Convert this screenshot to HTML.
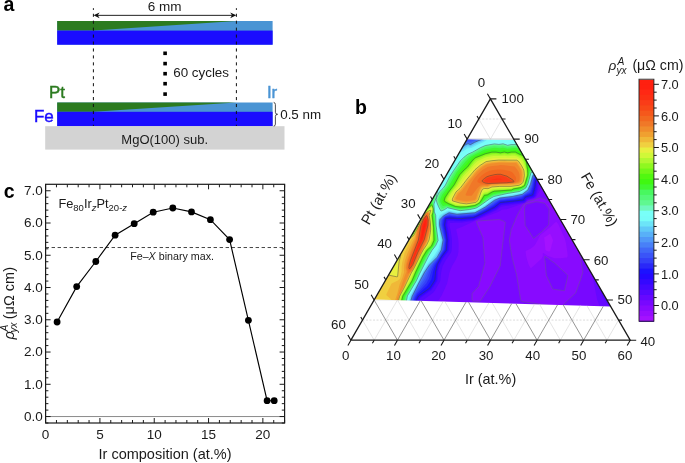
<!DOCTYPE html>
<html><head><meta charset="utf-8"><style>html,body{margin:0;padding:0;background:#fff;}svg{display:block;will-change:transform;}</style></head>
<body><svg width="685" height="463" viewBox="0 0 685 463">
<rect width="685" height="463" fill="#fff"/>
<rect x="57.2" y="21.0" width="215.40000000000003" height="23.700000000000003" fill="#4a94d4"/>
<polygon points="57.2,21.0 236.4,21.0 93.4,30.6 57.2,30.6" fill="#2c7b20"/>
<rect x="57.2" y="30.6" width="215.40000000000003" height="14.100000000000001" fill="#1a0cff"/>
<rect x="57.2" y="102.5" width="215.40000000000003" height="23.700000000000003" fill="#4a94d4"/>
<polygon points="57.2,102.5 236.4,102.5 93.4,111.8 57.2,111.8" fill="#2c7b20"/>
<rect x="57.2" y="111.8" width="215.40000000000003" height="14.400000000000006" fill="#1a0cff"/>
<rect x="45.2" y="126.2" width="239.3" height="23.4" fill="#d3d3d3"/>
<text x="164.7" y="143.6" font-size="13" text-anchor="middle" font-family="Liberation Sans, sans-serif" fill="#1a1a1a">MgO(100) sub.</text>
<line x1="93.4" y1="8.2" x2="93.4" y2="126" stroke="#111" stroke-width="1" stroke-dasharray="3.1,3.84" stroke-dashoffset="1.4"/>
<line x1="236.4" y1="8.2" x2="236.4" y2="126" stroke="#111" stroke-width="1" stroke-dasharray="3.1,3.84" stroke-dashoffset="1.4"/>
<line x1="96" y1="15.35" x2="234" y2="15.35" stroke="#222" stroke-width="1"/>
<polygon points="93.5,15.35 99.6,12.5 97.8,15.35 99.6,18.2" fill="#111"/>
<polygon points="236.3,15.35 230.2,12.5 232,15.35 230.2,18.2" fill="#111"/>
<text x="164.7" y="10.8" font-size="13.5" text-anchor="middle" font-family="Liberation Sans, sans-serif" fill="#1a1a1a">6 mm</text>
<rect x="163.3" y="51.5" width="3.6" height="3.6" fill="#000"/>
<rect x="163.3" y="61.800000000000004" width="3.6" height="3.6" fill="#000"/>
<rect x="163.3" y="71.9" width="3.6" height="3.6" fill="#000"/>
<rect x="163.3" y="81.9" width="3.6" height="3.6" fill="#000"/>
<rect x="163.3" y="92.3" width="3.6" height="3.6" fill="#000"/>
<text x="173.2" y="77.4" font-size="13.4" font-family="Liberation Sans, sans-serif" fill="#1a1a1a">60 cycles</text>
<text x="48.9" y="98.4" font-size="17" stroke="#2c7b20" stroke-width="0.45" font-family="Liberation Sans, sans-serif" fill="#2c7b20">Pt</text>
<text x="33.9" y="122.2" font-size="17" stroke="#1a0cff" stroke-width="0.45" font-family="Liberation Sans, sans-serif" fill="#1a0cff">Fe</text>
<text x="266.9" y="97.8" font-size="17" stroke="#4a94d4" stroke-width="0.45" font-family="Liberation Sans, sans-serif" fill="#4a94d4">Ir</text>
<path d="M273.7,102.4 Q275.4,102.6 275.4,104.6 L275.4,112.3 Q275.4,114.3 277.6,114.3 Q275.4,114.3 275.4,116.3 L275.4,124.1 Q275.4,126.1 273.7,126.1" fill="none" stroke="#222" stroke-width="0.8"/>
<text x="280.2" y="119.4" font-size="13.4" font-family="Liberation Sans, sans-serif" fill="#1a1a1a">0.5 nm</text>
<text x="3.6" y="11.2" font-size="19.5" font-weight="bold" font-family="Liberation Sans, sans-serif" fill="#000">a</text>
<line x1="45.6" y1="416.55" x2="284.6" y2="416.55" stroke="#8a8a8a" stroke-width="1"/>
<line x1="45.6" y1="247.52" x2="284.6" y2="247.52" stroke="#333" stroke-width="0.9" stroke-dasharray="3.4,2.6"/>
<path d="M45.60,423.0v-5M45.60,184.3v5M56.46,423.0v-3M56.46,184.3v3M67.33,423.0v-3M67.33,184.3v3M78.19,423.0v-3M78.19,184.3v3M89.05,423.0v-3M89.05,184.3v3M99.92,423.0v-5M99.92,184.3v5M110.78,423.0v-3M110.78,184.3v3M121.65,423.0v-3M121.65,184.3v3M132.51,423.0v-3M132.51,184.3v3M143.37,423.0v-3M143.37,184.3v3M154.24,423.0v-5M154.24,184.3v5M165.10,423.0v-3M165.10,184.3v3M175.96,423.0v-3M175.96,184.3v3M186.83,423.0v-3M186.83,184.3v3M197.69,423.0v-3M197.69,184.3v3M208.55,423.0v-5M208.55,184.3v5M219.42,423.0v-3M219.42,184.3v3M230.28,423.0v-3M230.28,184.3v3M241.15,423.0v-3M241.15,184.3v3M252.01,423.0v-3M252.01,184.3v3M262.87,423.0v-5M262.87,184.3v5M273.74,423.0v-3M273.74,184.3v3M284.60,423.0v-3M284.60,184.3v3M45.6,423.00h2.8M284.6,423.00h-2.8M45.6,416.55h5M284.6,416.55h-5M45.6,410.10h2.8M284.6,410.10h-2.8M45.6,403.65h2.8M284.6,403.65h-2.8M45.6,397.19h2.8M284.6,397.19h-2.8M45.6,390.74h2.8M284.6,390.74h-2.8M45.6,384.29h5M284.6,384.29h-5M45.6,377.84h2.8M284.6,377.84h-2.8M45.6,371.39h2.8M284.6,371.39h-2.8M45.6,364.94h2.8M284.6,364.94h-2.8M45.6,358.49h2.8M284.6,358.49h-2.8M45.6,352.04h5M284.6,352.04h-5M45.6,345.58h2.8M284.6,345.58h-2.8M45.6,339.13h2.8M284.6,339.13h-2.8M45.6,332.68h2.8M284.6,332.68h-2.8M45.6,326.23h2.8M284.6,326.23h-2.8M45.6,319.78h5M284.6,319.78h-5M45.6,313.33h2.8M284.6,313.33h-2.8M45.6,306.88h2.8M284.6,306.88h-2.8M45.6,300.42h2.8M284.6,300.42h-2.8M45.6,293.97h2.8M284.6,293.97h-2.8M45.6,287.52h5M284.6,287.52h-5M45.6,281.07h2.8M284.6,281.07h-2.8M45.6,274.62h2.8M284.6,274.62h-2.8M45.6,268.17h2.8M284.6,268.17h-2.8M45.6,261.72h2.8M284.6,261.72h-2.8M45.6,255.26h5M284.6,255.26h-5M45.6,248.81h2.8M284.6,248.81h-2.8M45.6,242.36h2.8M284.6,242.36h-2.8M45.6,235.91h2.8M284.6,235.91h-2.8M45.6,229.46h2.8M284.6,229.46h-2.8M45.6,223.01h5M284.6,223.01h-5M45.6,216.56h2.8M284.6,216.56h-2.8M45.6,210.11h2.8M284.6,210.11h-2.8M45.6,203.65h2.8M284.6,203.65h-2.8M45.6,197.20h2.8M284.6,197.20h-2.8M45.6,190.75h5M284.6,190.75h-5" stroke="#1a1a1a" stroke-width="1" fill="none"/>
<rect x="45.6" y="184.3" width="239.00000000000003" height="238.7" fill="none" stroke="#1a1a1a" stroke-width="1.2"/>
<text x="42.9" y="420.85" font-size="13.5" text-anchor="end" font-family="Liberation Sans, sans-serif" fill="#1a1a1a">0.0</text>
<text x="42.9" y="388.59" font-size="13.5" text-anchor="end" font-family="Liberation Sans, sans-serif" fill="#1a1a1a">1.0</text>
<text x="42.9" y="356.34" font-size="13.5" text-anchor="end" font-family="Liberation Sans, sans-serif" fill="#1a1a1a">2.0</text>
<text x="42.9" y="324.08" font-size="13.5" text-anchor="end" font-family="Liberation Sans, sans-serif" fill="#1a1a1a">3.0</text>
<text x="42.9" y="291.82" font-size="13.5" text-anchor="end" font-family="Liberation Sans, sans-serif" fill="#1a1a1a">4.0</text>
<text x="42.9" y="259.56" font-size="13.5" text-anchor="end" font-family="Liberation Sans, sans-serif" fill="#1a1a1a">5.0</text>
<text x="42.9" y="227.31" font-size="13.5" text-anchor="end" font-family="Liberation Sans, sans-serif" fill="#1a1a1a">6.0</text>
<text x="42.9" y="195.05" font-size="13.5" text-anchor="end" font-family="Liberation Sans, sans-serif" fill="#1a1a1a">7.0</text>
<text x="45.60" y="438.9" font-size="13.5" text-anchor="middle" font-family="Liberation Sans, sans-serif" fill="#1a1a1a">0</text>
<text x="99.92" y="438.9" font-size="13.5" text-anchor="middle" font-family="Liberation Sans, sans-serif" fill="#1a1a1a">5</text>
<text x="154.24" y="438.9" font-size="13.5" text-anchor="middle" font-family="Liberation Sans, sans-serif" fill="#1a1a1a">10</text>
<text x="208.55" y="438.9" font-size="13.5" text-anchor="middle" font-family="Liberation Sans, sans-serif" fill="#1a1a1a">15</text>
<text x="262.87" y="438.9" font-size="13.5" text-anchor="middle" font-family="Liberation Sans, sans-serif" fill="#1a1a1a">20</text>
<text x="165.0" y="459.2" font-size="14.5" text-anchor="middle" font-family="Liberation Sans, sans-serif" fill="#1a1a1a">Ir composition (at.%)</text>
<polyline points="57.1,322 76.7,286.6 95.8,261.5 115.1,235.2 134.2,223.7 153.2,212.2 172.8,208 191.5,211.9 210.4,219.7 229.6,239.6 248.4,320.3 267.1,400.7 274.2,400.7" fill="none" stroke="#000" stroke-width="1.15"/>
<circle cx="57.1" cy="322" r="3.4" fill="#000"/>
<circle cx="76.7" cy="286.6" r="3.4" fill="#000"/>
<circle cx="95.8" cy="261.5" r="3.4" fill="#000"/>
<circle cx="115.1" cy="235.2" r="3.4" fill="#000"/>
<circle cx="134.2" cy="223.7" r="3.4" fill="#000"/>
<circle cx="153.2" cy="212.2" r="3.4" fill="#000"/>
<circle cx="172.8" cy="208" r="3.4" fill="#000"/>
<circle cx="191.5" cy="211.9" r="3.4" fill="#000"/>
<circle cx="210.4" cy="219.7" r="3.4" fill="#000"/>
<circle cx="229.6" cy="239.6" r="3.4" fill="#000"/>
<circle cx="248.4" cy="320.3" r="3.4" fill="#000"/>
<circle cx="267.1" cy="400.7" r="3.4" fill="#000"/>
<circle cx="274.2" cy="400.7" r="3.4" fill="#000"/>
<text x="58.4" y="208.0" font-size="12.8" font-family="Liberation Sans, sans-serif" fill="#1a1a1a">Fe<tspan font-size="9.5" dy="3">80</tspan><tspan dy="-3">Ir</tspan><tspan font-size="9.5" dy="3" font-style="italic">z</tspan><tspan dy="-3">Pt</tspan><tspan font-size="9.5" dy="3">20-<tspan font-style="italic">z</tspan></tspan></text>
<text x="130.2" y="259.9" font-size="10.7" font-family="Liberation Sans, sans-serif" fill="#1a1a1a">Fe–<tspan font-style="italic">X</tspan> binary max.</text>
<g transform="translate(13.6,339.6) rotate(-90)" font-family="Liberation Sans, sans-serif" fill="#1a1a1a"><text x="0" y="0" font-size="14.5" font-style="italic">ρ</text><text x="7.0" y="3.2" font-size="10" font-style="italic">yx</text><text x="8.2" y="-5.4" font-size="10.3" font-style="italic">A</text><text x="20.4" y="0" font-size="14.5">(μΩ cm)</text></g>
<text x="3.8" y="197.8" font-size="19.5" font-weight="bold" font-family="Liberation Sans, sans-serif" fill="#000">c</text>
<rect x="330" y="110" width="320" height="210" fill="#a814ff"/><path fill="#a412ff" d="M330.4,110.1L649.9,110.1L649.9,319.9L330.1,319.9L330.1,110.1L330.4,110.1Z"/><path fill="#960eff" d="M330.4,110.1L649.9,110.1L649.9,319.9L330.1,319.9L330.1,110.1L330.4,110.1ZM549.6,234.1L544.9,236.9L544.2,237.6L545.4,249.4L545.6,249.9L546.8,250.9L548.4,251.6L549.6,251.5L550.2,250.9L553.0,240.6L552.7,239.6L550.8,234.9L550.2,234.1L549.6,234.1Z"/><path fill="#880aff" d="M330.4,110.1L649.9,110.1L649.9,319.9L330.1,319.9L330.1,110.1L330.4,110.1ZM556.0,221.9L553.9,223.6L551.0,226.6L540.1,235.4L535.9,243.6L533.9,246.3L530.4,248.8L525.7,250.9L525.6,251.9L526.1,255.4L527.4,261.0L529.1,265.7L530.6,268.0L531.2,267.9L534.7,264.9L541.6,258.4L542.9,255.9L542.7,253.6L543.1,253.1L543.9,253.2L547.4,255.7L554.6,258.2L560.4,258.2L566.6,257.6L567.4,257.3L567.6,255.9L567.5,253.1L566.0,243.4L565.0,239.1L558.4,224.6L556.9,222.3L556.4,221.9L556.0,221.9Z"/><path fill="#7808ff" d="M330.4,110.1L649.9,110.1L649.9,319.9L330.1,319.9L330.1,110.1L330.4,110.1ZM539.6,197.9L534.6,199.8L528.6,201.6L523.9,204.1L523.0,205.1L521.5,207.4L517.0,215.6L511.2,229.4L509.4,239.9L510.4,247.9L512.2,257.9L516.6,275.0L520.5,299.1L521.1,300.9L521.6,301.3L523.6,301.7L556.9,306.8L560.4,307.2L561.1,306.8L563.4,304.8L575.8,292.9L577.3,289.1L580.8,278.9L582.8,272.9L582.9,271.9L579.3,250.6L577.6,246.6L570.9,233.9L561.2,214.6L553.2,202.9L551.9,202.0L542.9,198.5L540.4,197.8L539.6,197.9ZM498.3,219.6L493.9,219.7L482.6,220.6L477.4,221.1L476.7,221.4L476.5,221.6L477.7,225.4L482.9,237.5L484.9,262.9L478.6,286.3L472.8,292.4L472.1,293.4L472.0,299.9L472.4,300.8L473.1,301.2L479.4,301.3L480.1,301.1L480.7,300.6L489.5,287.4L500.3,265.9L505.3,222.6L505.0,221.9L504.4,221.4L499.9,219.7L498.3,219.6ZM535.1,201.9L536.1,201.7L537.4,201.8L544.9,203.3L548.6,208.4L549.0,209.6L548.8,224.1L548.4,225.1L541.8,231.6L535.1,237.4L533.6,238.4L525.1,225.2L524.5,207.6L525.4,205.0L525.9,204.3L535.1,201.9ZM544.9,256.3L554.5,263.1L567.9,275.4L567.9,276.5L564.4,290.7L562.2,290.6L554.6,289.4L553.1,289.1L552.6,288.7L546.3,275.1L544.9,259.4L544.9,256.3Z"/><path fill="#6608ff" d="M330.4,110.1L596.6,110.1L596.1,114.9L595.0,119.4L581.4,157.9L574.1,179.4L572.3,182.6L570.2,184.9L568.6,186.0L566.1,187.2L562.6,188.0L560.4,188.0L544.4,186.4L542.5,186.4L541.9,187.0L536.8,196.1L535.7,197.4L534.4,198.3L527.9,200.1L526.1,202.1L524.9,203.0L510.4,208.0L506.6,209.2L502.6,209.4L497.6,212.2L476.4,220.0L473.6,221.6L461.9,227.1L459.1,227.9L456.4,229.0L456.3,229.9L458.2,238.9L458.6,243.1L458.5,251.4L457.7,255.4L455.4,260.4L452.6,264.9L450.7,269.1L449.2,273.6L447.6,281.6L446.9,284.1L441.7,295.4L438.9,299.7L432.1,307.6L429.8,314.1L426.5,319.9L330.1,319.9L330.1,110.1L330.4,110.1ZM608.4,254.6L610.4,254.6L612.4,255.0L614.4,255.8L616.1,257.0L625.6,267.5L629.6,271.6L637.4,279.0L649.9,290.3L649.9,315.4L647.1,317.7L643.8,319.9L605.2,319.9L603.7,316.6L597.1,299.6L592.2,274.4L589.4,265.1L589.3,263.9L589.9,261.9L590.6,261.0L591.6,260.3L605.9,255.2L608.4,254.6Z"/><path fill="#5408ff" d="M330.4,110.1L461.8,110.1L464.9,111.6L467.1,113.4L470.4,111.3L473.9,110.5L523.6,111.6L560.1,111.6L562.6,112.0L564.9,113.1L566.9,115.2L567.8,117.1L568.3,119.6L564.7,179.6L564.1,181.1L563.1,182.2L561.9,183.0L560.4,183.4L542.4,183.1L539.6,183.2L539.1,184.6L538.2,189.1L536.1,195.6L535.5,196.6L533.9,197.9L527.4,199.7L525.9,201.8L524.6,202.7L516.6,204.3L507.4,205.8L501.9,206.4L500.6,207.1L496.6,210.3L482.9,216.8L473.4,220.8L461.4,222.8L454.6,222.8L449.9,223.1L449.6,223.6L449.5,225.4L450.8,231.4L452.0,239.6L451.9,247.1L451.6,250.6L451.2,252.1L450.6,253.2L445.6,260.4L442.5,266.6L441.1,272.6L440.3,280.4L439.8,282.1L434.4,291.3L432.9,292.9L423.4,300.1L420.6,306.1L419.9,307.1L418.7,308.4L417.6,309.0L414.1,310.1L413.4,312.1L412.1,313.5L410.9,314.0L409.4,314.2L350.4,317.9L347.4,317.6L345.1,316.5L342.9,314.4L338.6,314.5L336.4,314.0L334.9,313.5L333.0,312.4L330.1,309.8L330.1,110.1L330.4,110.1ZM604.6,262.6L606.6,262.6L607.7,263.4L617.7,278.6L630.5,297.4L631.6,299.6L631.4,301.4L630.2,302.9L616.1,311.3L614.9,311.8L613.2,311.6L611.9,310.5L602.6,296.9L591.6,264.6L591.6,263.9L592.4,263.4L604.6,262.6Z"/><path fill="#4408ff" d="M340.1,117.6L459.6,117.5L461.4,118.0L462.4,119.1L463.0,121.6L464.3,130.9L464.9,131.4L466.1,131.5L469.1,131.5L469.8,131.1L471.8,119.4L472.9,118.0L474.6,117.5L558.9,117.5L560.6,117.7L561.5,118.1L562.2,118.9L562.8,121.1L562.8,177.9L562.5,179.6L562.2,180.4L561.5,181.1L559.6,181.7L539.4,181.7L538.4,181.9L538.0,182.6L537.3,188.6L535.4,195.4L534.9,196.4L533.6,197.4L527.1,199.1L526.6,199.6L525.4,201.6L524.4,202.3L520.9,202.9L501.4,205.1L499.9,206.1L496.1,209.4L482.6,216.1L473.6,220.1L461.6,221.3L456.9,221.2L449.6,220.8L448.1,221.0L447.8,221.6L447.3,225.1L448.7,232.1L449.7,240.1L449.2,249.9L448.9,251.1L448.2,252.1L443.1,258.7L439.7,265.6L438.3,271.6L438.0,277.4L437.4,281.1L431.8,289.9L420.5,297.9L417.5,303.9L416.8,304.9L415.6,305.5L412.4,305.8L411.1,306.3L410.9,307.0L410.8,309.9L410.4,310.6L409.1,310.9L350.1,310.8L349.5,310.1L349.4,306.9L348.9,306.1L347.4,305.8L340.9,305.8L339.4,305.5L338.0,304.4L337.5,302.4L337.5,121.1L337.8,119.4L338.2,118.6L338.9,118.0L340.1,117.6Z"/><path fill="#3408ff" d="M339.9,118.6L341.9,118.4L459.6,118.5L461.0,118.9L461.7,119.9L463.7,131.9L464.6,132.4L467.9,132.4L469.9,132.3L470.6,131.7L472.6,119.9L473.2,118.9L474.4,118.5L558.4,118.4L560.4,118.6L561.5,119.4L561.8,121.4L561.8,177.6L561.7,179.4L560.9,180.5L559.4,180.8L539.1,180.8L537.9,181.0L537.5,181.4L537.2,182.1L536.4,188.4L534.2,195.9L533.4,196.6L526.6,198.4L525.9,199.1L524.9,201.0L524.1,201.6L501.1,204.2L499.4,205.4L495.6,208.6L482.1,215.4L473.9,219.2L461.6,220.4L449.4,219.8L448.1,219.9L447.4,220.1L446.9,221.4L446.4,225.1L447.8,231.9L448.8,240.1L448.2,250.1L447.5,251.6L442.4,258.2L438.8,265.4L437.4,271.6L437.0,277.4L436.5,280.9L431.1,289.3L419.9,297.2L416.1,304.3L414.9,304.7L412.1,304.9L411.4,305.3L410.8,306.4L410.6,309.9L410.1,310.5L350.4,310.6L349.7,310.1L349.5,306.4L349.1,305.5L348.6,305.1L347.6,304.8L339.9,304.7L338.8,303.9L338.4,302.4L338.4,121.4L338.8,119.4L339.9,118.6Z"/><path fill="#2408ff" d="M340.4,119.4L459.6,119.3L460.6,119.7L461.1,120.9L462.5,130.9L463.0,132.9L464.1,133.2L468.6,133.3L470.6,133.2L471.4,132.6L473.2,120.9L473.6,119.7L474.4,119.4L485.1,119.2L560.1,119.3L560.9,119.9L561.1,121.1L561.1,173.4L560.9,179.1L560.4,179.8L559.4,179.9L538.6,180.0L537.1,180.4L536.6,180.9L536.3,181.9L535.6,188.1L533.6,195.4L532.9,195.9L525.9,197.8L524.3,200.4L523.6,200.9L500.9,203.3L499.0,204.6L495.1,208.0L481.9,214.6L473.6,218.4L461.4,219.6L449.6,219.0L447.4,219.0L446.6,219.3L446.0,221.4L445.5,225.1L446.9,231.6L447.9,239.9L447.4,250.0L446.7,251.4L441.6,257.9L438.0,265.1L436.5,272.1L436.2,277.6L435.7,280.6L430.6,288.7L419.2,296.6L415.6,303.6L414.9,303.9L411.6,304.0L411.1,304.3L410.6,306.4L410.5,309.6L410.1,310.4L408.9,310.5L350.4,310.5L349.8,309.9L349.7,306.4L349.0,304.1L340.4,303.9L339.6,303.6L339.3,302.4L339.3,121.6L339.5,119.9L340.4,119.4Z"/><path fill="#1c12ff" d="M483.9,119.6L558.6,119.5L560.4,119.8L560.7,121.1L560.8,173.4L559.9,178.9L558.9,179.1L538.4,179.1L537.1,179.3L536.1,179.8L535.7,180.4L534.7,187.9L532.9,194.4L532.6,194.9L525.4,197.0L524.8,197.6L523.6,199.7L523.1,200.0L500.4,202.5L494.7,207.1L481.4,213.9L473.6,217.5L461.4,218.6L456.9,218.6L449.9,218.1L446.6,218.2L445.9,218.4L445.4,219.4L444.6,225.1L446.0,231.9L447.1,239.9L446.8,246.6L446.4,250.1L441.0,257.4L437.2,264.6L435.5,271.9L434.8,279.6L433.9,281.6L429.9,287.9L418.4,296.1L415.0,302.9L411.4,303.4L411.0,303.6L410.5,306.6L410.4,309.6L410.1,310.2L408.9,310.4L359.9,310.4L350.9,310.4L350.1,310.2L349.8,309.6L349.8,306.6L349.5,304.1L349.1,303.5L347.1,303.2L340.9,302.9L340.4,302.6L340.3,302.1L340.9,121.0L342.1,120.8L459.1,120.6L459.6,120.7L459.9,121.2L461.7,132.9L462.0,133.9L463.1,134.3L469.6,134.3L471.8,134.1L472.5,133.1L474.4,120.6L474.9,120.3L481.4,120.1L483.9,119.6Z"/><path fill="#2a28f8" d="M483.9,119.9L485.1,119.7L527.6,119.7L559.1,119.7L560.1,119.9L560.5,120.4L560.5,121.1L560.6,173.4L560.4,174.4L558.9,177.6L557.9,177.9L537.9,177.9L536.4,178.2L535.1,179.1L534.7,179.9L533.4,187.6L531.7,192.9L531.1,193.6L524.9,196.1L522.9,198.3L522.1,198.7L513.9,199.9L499.9,201.5L493.9,205.9L484.9,211.0L475.9,215.5L472.9,216.4L463.1,217.3L457.1,217.6L449.9,216.8L446.4,217.3L445.3,217.6L444.6,218.6L443.9,220.9L443.3,224.6L446.1,240.1L445.2,249.6L440.4,256.9L435.7,264.6L433.3,271.1L431.6,278.6L431.1,279.9L427.4,285.8L417.4,295.1L414.3,301.6L413.9,302.0L410.9,303.2L410.6,303.9L410.3,309.6L410.1,310.1L408.9,310.3L360.6,310.3L351.1,310.3L350.2,310.1L350.0,309.6L349.7,303.9L349.4,303.2L343.4,300.8L342.9,300.4L342.7,299.9L343.1,295.4L345.5,281.1L345.5,269.1L345.8,264.4L346.8,258.1L367.7,147.9L368.6,147.4L431.6,131.2L439.4,129.6L446.4,128.5L453.2,128.1L457.3,134.6L458.8,136.1L460.4,136.9L462.1,137.1L472.1,136.4L473.1,136.0L474.0,135.4L475.3,133.1L476.4,123.9L476.7,122.9L483.9,119.9Z"/><path fill="#3440f8" d="M484.6,119.9L558.9,119.9L560.1,120.1L560.4,121.1L560.4,170.1L560.4,173.6L560.1,174.5L558.3,176.6L557.4,177.0L537.6,177.0L535.6,177.3L534.6,178.3L534.0,179.4L532.3,187.4L530.8,191.6L529.9,192.8L524.6,195.4L521.5,197.6L513.6,198.9L501.1,200.3L499.6,200.6L496.7,202.4L493.4,204.9L487.4,208.6L475.6,214.7L472.6,215.5L457.4,216.7L449.6,215.8L446.1,216.5L444.8,217.1L443.9,218.4L442.8,220.6L442.3,224.4L442.5,226.1L445.3,240.1L444.7,246.4L444.2,249.6L442.8,252.1L438.8,258.4L434.8,263.9L433.7,265.9L431.4,271.1L429.1,278.4L426.3,283.4L416.9,293.8L415.2,296.9L413.6,300.7L411.1,302.6L410.6,303.2L410.2,309.6L409.9,310.1L350.4,310.1L350.0,309.6L349.6,303.2L345.2,299.1L344.8,298.1L349.1,282.1L349.1,269.4L349.7,264.9L350.7,261.1L382.6,162.8L383.4,162.3L396.1,156.8L438.4,137.1L445.4,134.6L447.4,134.1L448.4,134.2L454.2,138.1L456.6,139.2L458.4,139.7L460.6,139.6L466.9,138.5L470.4,138.5L473.6,137.6L475.8,136.1L477.4,134.1L478.4,124.9L483.4,120.4L484.6,119.9Z"/><path fill="#3a54f8" d="M484.1,120.1L559.9,120.1L560.2,120.6L560.3,121.6L560.3,173.1L560.0,174.4L557.6,175.9L556.6,176.2L537.4,176.2L535.1,176.5L534.4,177.1L533.4,178.9L531.5,187.1L529.9,191.1L528.9,192.1L520.9,196.8L513.4,198.1L500.9,199.5L499.1,200.0L495.8,201.9L492.9,204.1L486.4,208.3L475.4,214.1L471.4,214.8L457.1,215.9L449.4,214.9L445.9,215.9L444.4,216.7L443.2,218.1L441.9,220.4L441.4,224.1L441.6,226.1L444.6,240.1L443.9,246.4L443.3,249.6L438.4,257.9L433.8,263.6L431.7,266.9L429.7,271.1L427.2,277.6L424.6,282.2L416.3,292.9L414.4,296.4L413.0,299.9L410.6,302.8L410.3,303.9L410.2,309.4L409.9,310.0L359.9,310.2L350.4,310.0L350.1,309.4L349.9,303.4L347.7,299.4L347.2,296.6L347.8,294.4L352.2,283.1L352.2,269.6L352.8,266.1L394.0,174.4L394.9,173.6L405.9,167.0L438.8,144.6L441.4,143.1L445.9,141.8L449.4,141.4L459.4,142.3L463.4,140.9L466.9,140.1L468.4,140.0L470.6,140.2L475.4,138.3L478.4,136.2L478.9,135.6L479.4,133.9L479.9,126.6L483.6,120.6L484.1,120.1Z"/><path fill="#4068f8" d="M484.6,120.1L558.9,120.1L559.9,120.3L560.1,121.6L560.1,172.9L560.0,174.1L558.9,174.7L556.1,175.4L537.1,175.5L534.6,175.8L533.7,176.6L532.9,178.5L531.3,184.9L529.1,190.6L528.4,191.4L522.9,195.0L520.4,196.1L513.4,197.4L500.9,198.8L498.9,199.4L495.1,201.3L485.9,207.8L475.4,213.5L471.1,214.1L457.1,215.3L449.4,214.0L445.7,215.4L444.0,216.4L441.1,220.1L440.6,223.6L440.8,226.4L444.0,240.1L442.5,249.6L441.6,251.6L437.9,257.6L433.1,263.1L430.6,266.4L428.3,270.6L426.7,273.9L425.5,276.9L423.1,281.1L415.3,292.6L413.6,296.1L412.5,299.1L410.4,303.0L409.9,309.9L408.6,310.1L360.1,310.1L351.1,310.0L350.4,309.9L350.0,303.6L349.0,300.1L349.0,299.1L351.1,292.1L355.0,283.9L355.0,270.1L355.5,267.6L394.6,199.4L401.8,192.4L405.7,188.1L411.2,181.1L416.3,173.4L433.6,157.9L450.0,146.1L451.6,145.2L453.6,144.7L460.4,144.3L463.9,142.5L467.6,141.4L470.6,141.8L475.1,139.9L479.9,137.3L480.4,136.6L481.0,134.4L481.4,127.9L483.7,120.9L484.0,120.4L484.6,120.1Z"/><path fill="#4880f8" d="M484.4,120.3L559.7,120.4L560.0,121.4L559.9,173.9L559.1,174.4L555.9,174.8L536.6,174.9L534.4,175.1L533.5,175.6L533.1,176.2L532.1,179.1L530.8,184.6L528.4,190.1L527.7,190.9L522.9,194.4L520.4,195.3L513.1,196.8L500.9,198.1L498.6,198.9L494.8,200.6L485.6,207.3L481.9,209.6L475.1,213.1L461.1,214.1L456.9,214.7L449.4,213.3L445.6,214.9L443.6,216.1L440.3,219.9L439.9,223.4L440.2,226.4L443.5,240.1L441.8,249.9L437.6,257.4L429.7,265.9L425.4,272.9L421.8,280.1L414.9,291.7L412.9,295.9L410.4,302.5L410.1,303.9L409.9,309.4L409.7,309.9L350.6,309.9L350.3,309.4L350.2,303.6L349.7,299.9L354.9,289.6L357.6,284.9L357.7,270.4L358.0,268.9L391.4,220.8L393.5,218.1L407.2,203.9L417.9,191.4L424.8,182.4L431.5,171.1L453.1,147.9L454.4,147.1L461.1,146.1L464.6,143.9L467.6,142.8L468.4,142.7L470.1,143.4L470.6,143.4L481.3,138.4L482.6,134.6L482.8,129.1L483.8,121.6L484.1,120.6L484.4,120.3Z"/><path fill="#5098f8" d="M484.4,120.6L485.4,120.4L519.9,120.4L559.6,120.6L559.8,168.9L559.8,173.1L559.6,173.9L558.8,174.1L555.9,174.3L534.4,174.6L533.4,175.1L532.8,175.9L530.4,184.4L528.0,189.9L527.4,190.6L522.4,194.3L512.9,196.4L500.9,197.8L499.6,198.1L494.6,200.2L485.4,207.0L481.6,209.3L474.9,212.8L460.9,213.8L456.9,214.3L449.1,212.8L445.4,214.6L443.4,215.9L439.9,219.6L439.5,222.9L439.5,225.1L439.8,226.6L443.1,240.1L441.4,249.9L437.3,257.1L429.4,265.1L426.9,268.8L424.4,272.6L417.9,284.8L412.1,296.5L410.1,303.1L409.9,309.1L409.6,309.7L359.9,309.9L350.6,309.7L350.0,300.9L350.1,299.9L359.1,285.8L359.2,270.6L359.5,269.6L360.0,268.9L429.9,184.1L454.6,149.1L455.4,148.7L461.6,147.3L465.1,144.8L467.6,143.8L468.4,143.7L470.1,144.5L470.6,144.5L474.6,142.3L478.9,140.4L481.6,139.6L482.2,139.1L483.7,134.9L484.0,123.9L484.4,120.6Z"/><path fill="#58b0f8" d="M484.9,120.8L524.1,120.7L559.1,121.0L559.3,121.6L559.4,125.9L559.5,170.1L559.4,173.5L556.1,173.8L535.1,174.2L533.9,174.5L532.9,175.1L532.6,175.6L530.1,184.4L527.8,189.6L527.1,190.4L522.6,193.9L512.9,196.1L500.6,197.5L498.4,198.3L494.4,199.9L485.1,206.8L481.6,208.9L474.9,212.5L460.9,213.5L456.9,214.0L449.1,212.4L445.4,214.3L443.4,215.5L439.6,219.5L439.2,222.9L439.2,225.1L439.5,226.9L442.8,240.1L441.1,249.6L437.1,256.9L429.1,264.9L426.5,268.6L423.9,272.6L417.6,284.5L411.8,296.4L410.0,302.4L409.7,309.1L409.4,309.6L350.9,309.6L350.6,309.1L350.4,300.1L357.1,289.9L359.4,286.0L359.5,270.6L360.0,269.4L431.9,182.4L438.4,173.5L455.0,149.6L455.6,149.3L461.9,147.8L465.1,145.4L467.6,144.3L468.4,144.2L469.9,145.0L470.6,145.0L474.9,142.6L479.1,140.8L482.1,139.9L482.6,139.5L484.2,135.1L484.6,121.9L484.6,121.1L484.9,120.8Z"/><path fill="#60c8f8" d="M510.4,121.9L520.1,121.7L530.1,121.9L546.3,122.9L555.6,123.6L556.4,123.9L556.6,125.1L558.1,161.6L558.2,171.1L557.9,172.1L545.3,173.4L534.9,173.9L533.6,174.3L532.7,174.9L532.3,175.6L529.9,184.3L527.6,189.4L527.0,190.1L522.4,193.6L512.9,195.8L500.4,197.3L495.6,199.0L492.9,200.5L484.9,206.6L479.3,209.9L474.9,212.1L456.9,213.6L449.1,212.1L447.9,212.5L443.0,215.4L439.3,219.4L438.9,222.6L438.9,225.1L439.2,226.9L442.4,240.1L440.6,249.6L436.6,256.7L428.9,264.6L426.3,268.4L423.7,272.4L417.3,284.4L411.4,296.4L409.8,302.1L409.4,308.9L409.1,309.4L359.6,309.5L351.3,309.1L351.0,308.1L351.0,300.4L357.5,289.9L359.1,287.0L359.5,285.9L359.6,270.9L360.0,269.6L427.0,188.4L432.1,182.6L436.8,176.9L439.1,173.9L455.4,150.5L456.5,149.9L462.1,148.4L465.5,145.9L467.4,145.1L468.1,144.9L469.9,145.6L470.9,145.5L475.1,143.1L479.1,141.3L482.9,140.0L484.9,135.4L486.0,123.1L486.4,122.3L487.9,122.1L510.4,121.9Z"/><path fill="#6ce4f8" d="M515.6,124.4L522.9,124.3L530.6,124.9L539.9,126.4L551.1,128.9L551.5,129.9L554.7,161.4L555.1,167.9L554.9,169.1L543.0,172.4L539.3,173.1L534.4,173.6L532.9,174.2L532.0,175.4L529.6,184.1L527.4,189.1L526.7,189.9L521.9,193.4L512.6,195.4L500.4,196.9L495.4,198.7L492.6,200.2L485.4,205.6L482.7,207.4L478.4,209.9L474.6,211.7L457.4,213.1L449.9,211.6L448.6,211.6L443.4,214.3L440.9,216.2L438.8,219.1L438.5,222.6L438.5,225.1L438.8,226.9L441.8,240.1L441.6,241.6L439.9,248.9L435.7,256.1L428.1,264.6L423.3,272.1L411.1,295.6L409.4,301.6L408.9,306.9L408.7,308.1L408.4,308.5L405.6,308.8L359.9,308.8L355.9,308.5L352.6,307.8L352.4,307.4L352.2,305.6L352.2,300.9L358.6,288.6L359.6,286.1L359.7,270.9L360.0,269.9L429.6,185.5L439.4,176.2L453.5,155.6L456.4,151.9L457.4,151.2L462.6,149.5L466.6,146.7L467.9,146.3L469.9,146.7L471.1,146.5L477.6,143.0L483.4,140.8L484.3,139.6L486.6,135.6L489.0,126.1L489.5,125.4L493.6,125.1L507.4,125.2L515.6,124.4Z"/><path fill="#78fcf8" d="M519.1,128.1L524.4,128.4L529.7,129.6L535.1,131.6L544.2,135.9L544.6,136.9L549.8,163.1L549.8,163.9L549.3,164.6L544.7,168.4L541.1,170.9L538.1,172.3L533.9,173.1L532.1,174.1L531.5,175.4L529.1,184.1L526.6,189.2L522.1,192.4L520.4,193.1L512.4,194.6L500.1,196.4L494.4,198.3L491.1,200.3L485.1,204.9L482.1,206.8L477.7,209.4L474.4,210.8L462.6,212.1L457.4,212.3L450.1,210.7L448.4,210.6L447.6,210.8L439.8,215.1L437.9,219.1L437.8,224.9L440.7,240.4L438.5,248.4L434.4,255.2L427.4,264.1L422.8,271.6L417.9,281.4L410.3,295.4L409.5,297.6L408.9,300.1L408.1,305.1L407.6,306.5L407.1,307.2L405.4,307.4L359.9,307.4L357.1,307.0L354.6,306.0L354.3,305.6L354.1,304.6L354.1,301.4L358.9,288.9L359.8,285.9L359.8,270.9L360.1,269.9L429.9,185.4L440.8,178.6L447.9,167.6L455.2,157.1L457.6,154.1L458.6,153.3L463.4,151.2L467.2,148.6L471.4,148.0L478.1,144.4L483.4,142.3L484.6,141.6L486.1,140.4L489.5,136.6L493.9,130.0L494.9,129.8L498.6,130.0L503.4,129.8L508.6,130.2L514.1,128.7L519.1,128.1Z"/><path fill="#78fff8" d="M518.1,133.6L519.9,133.4L521.9,133.5L523.6,134.0L525.5,134.9L527.6,136.4L535.4,143.5L536.1,144.4L536.6,145.6L539.1,153.6L538.8,164.6L538.3,169.9L537.9,170.6L537.1,171.2L533.1,172.4L532.0,172.9L531.5,173.4L529.7,179.1L528.4,183.9L526.1,188.6L521.6,191.5L519.9,192.2L500.1,195.6L494.1,197.3L490.6,199.3L483.8,204.4L480.6,206.5L476.9,208.7L474.1,209.6L469.9,210.4L459.9,211.4L456.9,211.1L450.4,209.5L447.9,209.2L446.9,209.5L445.1,210.8L441.1,212.5L439.9,212.6L438.1,212.0L437.6,212.1L437.5,214.6L436.8,219.1L436.9,225.1L439.3,239.4L439.2,241.1L436.6,247.6L426.3,263.4L421.9,271.2L417.1,281.0L409.2,294.9L408.1,297.6L407.1,303.6L406.6,304.6L405.7,305.4L404.6,305.5L360.6,305.5L358.9,305.3L357.4,304.4L356.8,303.4L356.8,302.1L359.9,285.6L359.9,270.9L360.2,269.9L377.0,249.9L429.9,185.6L431.6,184.7L438.6,183.2L439.9,183.1L441.4,183.4L441.9,183.2L442.7,182.1L448.2,172.6L457.7,158.9L460.1,156.2L466.7,151.9L468.1,151.2L472.1,150.0L479.4,146.0L487.4,142.7L494.1,139.0L498.4,137.6L500.4,136.5L503.1,136.2L508.1,137.1L511.9,136.8L515.2,134.6L518.1,133.6Z"/><path fill="#70f8bf" d="M519.9,139.8L520.4,139.7L520.9,140.1L523.3,144.4L533.0,162.9L536.3,169.9L535.9,170.5L532.3,171.9L531.0,172.6L528.0,183.6L525.8,188.1L519.6,191.5L506.8,193.6L493.9,196.5L489.6,198.9L480.1,205.7L476.9,207.7L475.4,208.3L469.6,209.6L460.1,210.7L457.6,210.3L447.4,207.7L446.9,207.9L444.6,209.6L442.6,210.5L441.4,210.9L440.6,210.6L438.5,206.6L437.0,202.9L436.2,199.4L436.5,198.1L439.2,192.1L443.0,188.4L445.4,185.1L449.7,176.6L453.7,170.4L456.9,166.1L460.3,160.9L464.1,157.1L467.9,154.2L472.7,152.1L480.4,147.7L485.4,145.5L494.4,143.9L498.9,144.4L503.1,143.8L507.6,145.3L511.1,144.6L516.9,144.6L517.4,144.3L519.0,140.9L519.9,139.8ZM430.6,185.4L431.9,185.2L437.9,185.7L438.3,185.9L438.5,186.4L436.3,197.4L434.1,203.0L433.9,204.1L434.4,211.9L435.7,215.4L436.1,225.4L438.1,240.4L435.8,245.4L431.9,250.5L428.6,256.1L419.6,273.8L416.5,280.6L407.4,295.9L407.0,297.4L406.0,303.1L405.6,303.5L404.9,303.7L397.1,304.1L361.1,303.9L359.9,303.8L359.3,302.9L359.3,300.9L359.5,289.6L360.0,285.4L360.0,270.9L360.3,269.9L380.5,245.9L427.6,188.6L430.1,185.6L430.6,185.4Z"/><path fill="#60f890" d="M520.1,141.0L520.6,141.4L526.5,151.9L535.7,169.6L535.4,170.2L531.9,171.6L530.7,172.4L527.7,183.6L525.6,187.9L519.4,191.2L509.1,192.8L493.6,196.1L490.0,198.1L481.4,204.5L475.9,207.7L469.4,209.2L460.1,210.3L447.4,207.3L446.6,207.5L444.4,209.1L442.4,210.0L441.4,210.2L440.9,209.9L439.1,206.4L437.7,202.9L436.9,199.4L439.3,193.4L440.2,191.9L443.4,188.9L446.1,185.1L450.5,176.6L454.3,170.6L457.3,166.6L460.6,161.6L464.6,157.5L468.1,154.8L473.4,152.4L480.9,148.1L485.6,146.0L494.4,144.6L498.9,145.1L503.1,144.6L507.4,146.1L511.4,145.4L517.4,145.4L518.0,144.9L519.6,141.6L520.1,141.0ZM430.4,185.9L431.6,185.7L435.6,186.1L437.4,186.3L437.7,186.6L435.5,197.1L433.4,203.9L434.0,212.1L435.2,215.4L435.8,225.4L437.7,240.1L435.4,245.1L431.4,250.4L428.1,255.9L419.4,273.4L416.3,280.4L407.1,295.5L406.6,297.1L405.9,301.9L405.6,302.9L404.9,303.2L397.1,303.8L371.9,303.8L360.1,303.5L359.7,302.9L359.6,301.1L360.2,270.1L380.8,245.9L420.6,197.4L430.4,185.9Z"/><path fill="#54f878" d="M520.1,142.7L520.6,143.1L521.6,144.6L526.1,152.2L530.1,159.6L534.9,169.4L534.6,169.9L531.1,171.5L530.5,172.1L527.4,183.6L526.2,186.4L525.4,187.6L519.4,190.8L505.1,193.2L493.6,195.7L489.1,198.2L479.8,205.1L476.4,207.2L475.1,207.6L469.4,208.9L460.1,209.9L447.1,206.9L446.4,207.1L443.9,208.8L441.9,209.4L441.2,209.1L439.6,206.3L438.3,202.9L437.5,199.4L439.9,193.5L440.7,192.1L444.0,188.9L446.6,185.4L450.9,177.1L454.9,170.7L461.4,161.7L465.1,157.9L468.4,155.3L473.6,152.8L481.0,148.6L485.9,146.5L494.4,145.2L499.1,145.7L502.9,145.2L507.4,146.6L511.6,145.9L517.4,146.0L518.4,145.4L520.1,142.7ZM430.9,187.0L435.6,187.1L436.4,187.4L436.5,187.6L434.9,197.1L433.3,202.6L433.1,203.9L433.8,212.4L434.9,215.6L435.5,225.6L437.3,240.1L435.1,244.9L431.0,250.4L427.8,255.6L419.0,273.4L415.9,280.3L406.8,295.4L406.2,297.1L405.3,302.4L404.6,302.9L400.6,303.5L397.1,303.7L371.9,303.6L360.9,303.5L360.1,303.3L359.8,302.4L359.8,293.4L360.1,285.1L360.1,270.9L360.3,270.1L390.9,235.1L417.9,201.7L424.9,193.3L429.9,187.8L430.9,187.0Z"/><path fill="#48f85f" d="M520.1,145.5L520.9,146.0L524.1,150.5L527.6,156.1L529.7,160.1L533.5,168.9L533.3,169.4L530.6,171.2L530.1,171.9L527.1,183.4L525.9,186.3L525.1,187.4L523.1,188.6L519.4,190.4L505.1,192.8L493.4,195.2L486.9,199.0L481.1,203.9L475.6,207.1L469.1,208.5L460.4,209.5L455.7,208.6L447.6,206.4L446.4,206.4L443.9,207.7L442.9,207.9L442.1,207.9L441.6,207.4L440.4,205.4L439.2,202.6L438.6,199.6L439.1,197.6L440.9,193.6L441.6,192.5L444.6,189.4L447.3,185.9L451.7,177.6L455.6,171.3L462.4,162.3L465.6,158.9L468.4,156.5L481.4,149.5L486.4,147.4L494.1,146.2L499.6,146.7L502.9,146.2L506.6,147.3L507.6,147.5L511.9,146.8L515.6,146.7L517.6,147.0L518.7,146.6L520.1,145.5ZM432.4,189.6L432.9,189.7L433.1,190.1L433.4,196.1L432.8,203.6L433.5,208.9L433.6,212.4L434.5,215.6L435.2,225.6L436.8,240.1L434.6,244.9L430.6,250.1L427.2,255.6L418.5,273.1L415.4,280.1L406.3,295.4L405.6,297.1L404.9,301.9L404.4,302.4L400.9,303.3L397.1,303.6L371.9,303.5L360.9,303.3L360.2,303.1L359.9,302.1L360.0,291.1L360.2,285.1L360.2,270.9L360.4,270.1L368.6,261.3L392.7,236.6L398.8,228.9L401.9,225.4L419.1,202.9L426.5,194.4L430.6,190.6L431.6,189.8L432.4,189.6Z"/><path fill="#40f830" d="M493.1,147.9L494.6,147.8L499.9,148.3L502.9,147.8L507.6,148.8L511.9,148.2L515.1,148.1L518.1,148.5L519.9,148.5L520.4,148.7L524.4,152.9L526.6,156.4L528.7,160.4L531.5,168.1L531.4,168.6L529.5,171.4L528.6,176.1L526.6,183.4L525.1,186.6L522.9,188.1L519.1,189.7L514.4,190.5L512.1,191.2L498.1,193.2L493.1,194.3L486.1,198.2L480.6,203.6L476.1,206.4L475.1,206.7L468.9,208.0L460.1,208.8L454.6,207.8L447.4,205.5L445.9,205.4L443.1,205.9L442.6,205.7L441.9,204.8L440.8,202.9L440.3,201.6L440.1,199.9L440.6,197.9L442.2,194.4L448.5,186.4L456.6,172.3L465.1,161.9L469.4,157.6L473.8,154.9L484.7,149.6L486.9,148.9L493.1,147.9ZM428.9,196.6L429.4,196.6L429.6,197.1L432.4,204.0L433.3,208.4L433.4,212.9L434.2,218.9L434.6,225.9L435.8,236.4L435.9,240.4L433.6,245.4L432.6,246.9L428.6,251.6L425.0,257.9L417.8,272.6L414.7,279.9L405.4,295.4L404.8,296.9L404.0,301.4L400.9,303.2L397.1,303.5L372.1,303.4L360.4,303.1L360.1,302.1L360.1,291.9L360.3,271.1L360.5,270.1L365.1,265.7L395.3,239.1L400.7,231.9L404.7,227.6L420.3,205.6L426.1,198.9L428.9,196.6Z"/><path fill="#40f811" d="M491.4,150.1L494.6,149.9L500.1,150.5L504.1,150.0L507.6,150.8L510.9,150.2L515.6,150.0L519.4,151.3L523.4,154.2L525.1,156.4L527.3,160.6L529.1,167.4L528.4,171.4L528.2,175.4L525.8,183.6L524.9,185.9L521.4,188.0L518.6,188.8L513.9,189.6L511.9,190.5L494.9,192.4L492.9,193.0L491.4,193.7L487.6,196.0L485.4,196.8L480.1,203.1L476.1,205.5L474.9,206.1L466.6,207.4L460.1,207.8L454.9,207.0L448.9,204.8L443.9,203.3L443.1,202.9L442.3,201.6L442.2,199.9L442.9,197.4L444.1,195.1L449.3,188.4L452.0,184.4L458.2,173.4L469.4,160.6L472.0,158.1L474.6,156.3L484.9,151.7L491.4,150.1ZM430.9,204.3L431.9,204.5L432.4,205.1L433.3,208.9L433.2,212.4L432.9,215.4L433.4,219.4L434.4,230.9L434.9,238.4L434.8,240.6L432.1,246.4L427.6,251.0L424.0,257.1L416.8,272.1L413.3,280.1L404.0,295.9L403.0,300.1L401.7,302.4L400.6,303.1L396.9,303.4L372.1,303.3L361.1,303.1L360.4,302.9L360.2,302.1L360.2,289.1L360.4,271.1L360.6,270.2L363.1,267.9L398.9,242.6L404.4,234.6L408.4,230.9L423.4,207.5L424.6,206.5L430.9,204.3Z"/><path fill="#51f810" d="M491.9,152.1L496.1,152.1L500.4,152.8L504.4,152.0L507.6,152.8L511.4,152.1L515.4,152.0L519.3,154.1L522.4,155.3L523.4,156.2L524.5,157.9L526.3,161.9L527.6,169.6L527.8,173.4L527.7,175.4L526.1,180.1L525.0,184.6L524.5,185.6L521.1,187.5L513.6,188.9L511.4,190.0L494.4,191.2L492.4,191.9L491.1,192.4L487.4,194.9L484.4,195.4L479.9,202.6L478.1,203.8L474.9,205.5L466.1,206.8L460.1,207.0L455.4,206.5L448.1,203.5L444.6,201.4L444.2,200.9L444.2,200.4L445.0,197.6L448.5,192.1L454.1,184.9L459.7,174.6L464.1,169.9L467.5,166.9L471.2,161.9L473.7,159.1L475.4,157.7L485.4,153.7L491.9,152.1ZM431.6,205.1L432.1,205.3L432.4,205.8L433.2,208.9L433.0,212.4L432.1,215.4L432.8,219.6L433.6,227.6L434.1,236.9L434.0,240.4L431.5,246.1L426.9,250.4L422.9,257.0L419.5,264.4L415.9,271.7L412.0,280.9L402.9,295.9L401.8,300.9L401.1,302.6L400.4,303.0L396.9,303.3L372.1,303.2L360.6,302.8L360.3,302.1L360.4,289.5L360.6,271.1L360.9,270.1L363.1,268.4L368.9,265.2L400.2,248.4L402.7,246.9L408.2,237.9L411.8,235.4L412.4,234.7L422.8,215.9L426.3,210.1L429.9,206.4L431.6,205.1Z"/><path fill="#70f818" d="M504.1,152.6L507.6,153.4L511.4,152.7L515.6,152.7L519.1,154.6L522.1,155.8L523.7,157.4L525.4,160.9L525.8,162.1L527.2,169.9L527.5,173.6L527.3,175.6L525.9,179.9L524.7,184.6L524.1,185.5L521.1,187.2L513.4,188.6L511.4,189.7L494.4,190.7L492.6,191.3L490.9,192.0L487.1,194.5L484.1,194.9L479.6,202.4L477.9,203.6L474.6,205.2L466.1,206.5L460.1,206.5L455.4,206.1L448.4,203.1L445.0,200.9L444.8,200.4L445.0,199.1L446.1,196.8L449.0,192.4L454.6,185.1L460.3,174.9L464.6,170.2L467.9,167.4L471.9,162.0L475.1,158.5L485.6,154.3L491.9,152.7L496.1,152.7L500.4,153.4L504.1,152.6ZM431.4,205.6L431.9,205.6L432.1,205.9L433.1,208.9L432.9,212.1L431.8,215.4L432.5,219.6L433.2,227.6L433.7,237.1L433.6,240.4L431.1,246.1L426.6,250.1L422.6,256.6L419.2,264.1L415.5,271.6L411.7,280.6L402.6,295.6L402.1,296.9L401.2,301.9L400.9,302.6L400.4,302.9L396.6,303.3L372.1,303.2L360.8,302.6L360.6,302.1L360.6,300.6L360.9,270.6L363.4,268.9L389.9,254.8L400.4,248.9L403.1,247.1L408.6,238.1L412.7,235.1L424.8,213.1L426.9,210.1L431.4,205.6Z"/><path fill="#8ff820" d="M491.6,153.4L495.9,153.2L500.6,153.8L504.4,153.2L507.9,153.9L511.6,153.2L515.1,153.2L518.9,155.1L521.7,156.1L522.4,156.6L523.4,157.9L525.4,162.2L526.9,170.0L527.2,173.6L527.1,175.4L524.1,185.1L521.1,186.9L513.4,188.3L511.1,189.4L494.1,190.4L492.4,191.0L490.6,191.7L486.9,194.1L484.6,194.3L483.9,194.6L479.4,202.2L477.8,203.4L474.6,204.9L466.1,206.2L459.9,206.2L455.6,205.8L448.8,202.9L445.8,200.9L445.4,200.4L445.5,199.4L446.6,197.0L449.4,192.6L455.2,185.1L460.8,175.1L464.9,170.8L468.4,167.6L472.3,162.4L474.6,159.8L476.2,158.6L484.9,155.1L491.6,153.4ZM431.4,206.1L431.9,206.1L432.1,206.5L432.9,208.9L432.6,212.1L431.5,215.4L432.2,219.9L432.9,227.6L433.3,237.1L433.2,240.4L430.8,245.9L426.2,250.1L422.4,256.4L418.9,264.0L415.2,271.4L411.4,280.4L402.3,295.6L401.8,296.9L400.7,302.4L400.1,302.7L396.9,303.2L372.4,303.1L361.2,302.1L361.0,301.1L361.1,295.9L362.3,271.6L364.4,270.2L375.1,263.9L384.4,259.0L391.7,254.4L400.9,249.0L403.1,247.4L408.8,238.1L412.1,235.9L412.9,235.2L425.0,213.1L427.2,210.1L431.4,206.1Z"/><path fill="#b1f830" d="M492.1,154.4L495.6,154.2L500.6,154.7L504.4,154.2L507.9,154.8L511.9,154.2L514.9,154.2L520.9,156.7L521.9,157.4L523.4,159.6L524.7,162.6L526.4,169.9L526.8,173.6L526.6,175.5L523.8,184.9L520.8,186.6L513.1,188.0L511.1,188.9L494.1,189.9L492.1,190.5L487.1,193.2L484.4,193.7L483.6,194.1L479.1,202.0L477.2,203.4L474.6,204.6L466.1,205.9L458.4,205.7L455.4,205.2L451.9,203.8L449.1,202.4L447.5,201.1L446.6,200.2L446.5,199.6L447.4,197.4L450.1,192.9L456.0,185.4L461.6,175.9L465.4,171.6L469.0,168.4L473.1,163.1L475.4,160.6L477.1,159.4L484.9,156.1L492.1,154.4ZM431.6,206.6L432.4,207.6L432.8,209.1L432.4,212.0L431.1,215.4L431.9,219.9L432.6,227.9L432.8,237.4L432.7,240.1L430.4,245.4L425.9,249.9L421.9,256.4L418.6,263.7L414.8,271.4L410.9,280.4L402.0,295.4L401.4,296.9L400.4,302.2L399.9,302.5L396.9,303.1L372.1,303.0L367.2,302.1L362.8,300.9L362.5,300.1L362.6,298.3L365.3,274.4L365.6,273.4L376.5,265.9L381.9,262.8L385.4,261.0L394.2,253.9L403.4,247.4L408.9,238.4L413.0,235.4L425.1,213.2L427.6,210.1L430.6,207.1L431.6,206.6Z"/><path fill="#d0f838" d="M493.4,155.9L500.9,156.1L504.4,155.7L508.1,156.2L512.1,155.8L514.4,155.8L517.1,156.5L521.0,158.4L523.1,161.6L524.1,164.4L525.6,169.4L526.1,173.9L525.9,175.9L524.8,180.6L523.4,184.5L520.4,186.3L513.1,187.5L510.9,188.3L500.4,188.6L493.1,189.2L491.6,189.7L487.6,191.7L484.6,192.4L483.6,192.9L482.8,193.9L479.6,200.3L478.8,201.6L476.9,203.1L474.6,204.1L466.1,205.4L458.9,205.0L455.6,204.4L452.1,203.1L450.9,202.5L449.5,201.4L448.3,199.9L448.2,199.1L448.8,197.6L451.1,193.6L453.6,190.0L457.2,185.9L463.1,176.6L466.6,172.7L469.6,169.8L474.4,164.1L477.4,161.2L484.1,158.0L487.1,157.0L493.4,155.9ZM431.1,207.5L431.6,207.5L432.1,207.9L432.5,209.1L431.9,211.9L430.6,215.4L431.6,222.1L432.0,228.1L432.2,232.9L432.0,238.1L431.7,240.1L429.6,244.9L425.3,249.6L421.5,256.1L414.2,271.1L410.4,279.8L401.4,295.4L400.9,296.6L399.8,301.9L398.0,302.9L396.9,303.1L372.1,302.9L370.9,302.6L370.0,302.1L365.9,298.6L365.4,297.6L369.7,277.1L370.1,276.1L379.5,268.1L383.6,265.6L387.9,263.8L393.6,257.2L396.3,253.6L403.4,247.6L409.1,238.4L412.4,236.2L413.2,235.4L425.1,213.4L427.6,210.6L431.1,207.5Z"/><path fill="#e8f040" d="M502.9,157.9L504.4,157.8L507.9,158.1L513.6,157.9L516.9,158.2L517.9,158.6L519.4,159.5L520.4,160.5L522.1,163.5L524.5,169.1L525.2,174.1L525.1,175.9L524.2,180.6L523.2,183.4L522.6,184.1L520.6,185.5L519.4,185.9L510.6,187.3L500.1,187.5L492.6,188.1L491.4,188.5L488.1,190.1L483.9,190.6L483.4,191.1L482.0,192.9L480.7,195.6L479.1,199.9L478.4,201.0L476.6,202.7L474.6,203.4L466.9,204.6L465.1,204.6L459.9,204.1L456.1,203.3L452.4,202.1L451.4,201.4L450.5,199.4L450.5,198.4L454.6,191.1L458.6,187.1L465.1,177.7L470.9,171.4L473.6,168.0L478.5,163.4L481.9,161.4L486.1,159.4L493.9,158.1L502.9,157.9ZM431.1,208.5L431.8,208.6L432.0,209.4L429.8,215.4L431.1,224.4L431.3,231.9L430.8,237.9L430.3,240.6L428.5,244.4L424.0,250.1L421.1,255.1L409.4,279.4L400.7,295.4L400.1,296.8L399.2,300.9L398.6,302.1L397.7,302.9L396.9,303.0L392.6,302.7L371.6,302.6L371.3,302.4L371.2,301.9L371.4,292.1L375.9,279.6L382.3,272.1L384.3,270.4L387.1,269.1L390.9,268.8L391.6,268.5L395.2,260.6L397.3,256.9L397.5,254.9L398.0,253.9L404.0,247.1L409.1,238.6L413.2,235.6L425.3,213.4L426.6,212.0L431.1,208.5Z"/><path fill="#f0d040" d="M498.6,160.1L504.6,159.9L507.1,160.2L516.9,160.2L518.6,161.4L521.5,165.6L523.0,168.4L523.8,170.1L524.1,171.9L524.4,175.4L523.8,180.1L522.8,182.6L522.1,183.5L520.1,185.0L519.1,185.3L510.9,186.4L499.6,186.4L491.9,187.0L488.1,188.7L484.9,188.5L483.1,188.9L482.4,189.4L481.1,192.0L479.6,195.6L478.3,199.9L476.6,202.0L475.9,202.5L466.4,203.9L460.1,203.1L455.9,202.1L452.5,200.9L452.3,199.9L452.5,198.6L456.0,191.9L460.0,188.4L467.1,179.1L471.4,174.3L475.1,169.6L480.1,165.4L486.1,161.6L491.9,160.7L498.6,160.1ZM430.1,210.3L430.6,210.2L430.7,210.6L429.3,215.4L430.4,222.1L430.7,224.9L430.7,229.1L430.4,232.6L429.0,240.1L426.7,244.9L423.4,249.7L421.1,253.9L414.4,267.6L411.1,273.4L404.3,287.6L400.4,294.9L399.6,296.5L398.1,302.4L397.4,302.9L396.4,302.9L391.6,302.5L372.8,302.1L372.9,301.5L374.6,298.2L387.6,275.4L388.4,275.1L396.4,276.7L397.4,276.7L397.6,276.4L398.0,274.4L398.5,265.6L399.1,261.4L400.7,255.6L400.7,255.1L399.9,254.4L400.1,253.9L402.9,249.3L404.5,247.1L409.4,238.9L412.6,236.6L413.6,235.6L417.4,228.1L425.4,213.4L426.9,212.0L430.1,210.3Z"/><path fill="#f0b838" d="M498.9,160.9L504.9,160.8L507.1,161.0L516.4,161.0L516.9,161.1L518.1,162.0L520.9,166.0L522.4,168.7L523.1,170.2L523.4,171.9L523.7,175.4L523.2,179.9L522.3,182.1L521.6,183.1L519.4,184.6L517.1,185.0L510.9,185.7L499.6,185.7L491.9,186.3L490.9,186.5L488.1,187.9L484.6,187.8L482.4,188.3L481.5,189.4L479.1,194.9L477.8,199.4L477.0,200.6L475.6,201.9L466.4,203.3L460.1,202.4L454.6,200.9L453.4,200.4L453.1,199.9L453.3,198.9L456.6,192.4L460.6,188.9L467.6,179.8L472.1,174.7L475.8,170.1L480.6,166.0L486.4,162.4L492.1,161.5L498.9,160.9ZM428.1,211.8L429.1,211.8L429.4,212.4L429.5,213.6L429.0,215.4L429.9,219.9L430.4,225.1L430.4,229.1L430.0,232.1L428.3,240.1L426.0,244.9L422.9,249.9L420.8,253.9L414.0,267.9L412.5,270.6L410.9,272.7L409.9,274.7L403.9,287.6L399.6,295.9L397.9,302.4L397.1,302.8L395.3,302.6L393.9,301.9L386.7,295.4L386.3,294.9L386.5,293.9L391.4,283.7L392.1,283.2L397.9,280.6L399.1,279.6L400.0,278.4L400.4,277.1L401.6,271.6L401.6,266.6L402.2,262.4L404.0,255.9L404.5,253.1L410.8,240.6L414.1,236.3L417.4,228.4L425.4,213.6L426.6,212.4L428.1,211.8Z"/><path fill="#f0a030" d="M498.4,161.9L504.4,161.7L507.1,161.9L515.9,161.9L516.6,162.1L517.4,162.6L520.3,166.9L522.0,169.9L522.4,171.4L522.8,175.1L522.5,178.4L522.1,180.4L521.4,181.9L520.9,182.5L519.1,183.7L517.4,184.0L510.9,184.8L499.6,184.8L491.9,185.4L490.6,185.6L487.9,187.0L484.6,186.9L481.9,187.5L481.0,188.4L479.6,191.4L478.2,194.9L476.9,199.1L475.8,200.6L474.9,201.2L466.4,202.4L459.9,201.4L455.1,200.2L454.4,199.7L454.4,198.6L457.2,193.1L461.2,189.6L468.4,180.3L472.9,175.2L476.1,171.1L477.9,169.5L481.4,166.6L486.6,163.4L491.9,162.5L498.4,161.9ZM427.1,212.4L428.4,212.3L428.9,212.6L429.2,213.1L428.8,215.4L429.7,219.9L430.2,225.1L430.2,229.1L429.8,231.6L427.5,240.9L425.5,244.9L420.5,253.9L413.9,267.6L412.2,270.6L410.5,272.6L409.5,274.6L403.6,287.5L399.2,295.9L397.6,302.3L397.1,302.6L396.0,302.6L395.5,302.4L395.3,301.9L395.3,299.6L397.2,293.9L399.7,284.1L402.3,278.1L404.2,271.9L403.9,268.4L404.2,264.6L404.9,261.1L407.1,254.1L412.4,241.9L414.7,237.9L417.0,229.6L417.6,228.3L425.4,213.8L426.1,213.0L427.1,212.4Z"/><path fill="#f08c2c" d="M499.1,162.8L515.4,163.1L516.6,163.5L519.4,167.5L520.9,170.1L521.4,171.9L521.7,175.1L521.5,178.4L521.1,180.1L520.1,181.8L518.6,182.8L513.4,183.7L510.9,184.0L499.4,184.0L491.9,184.5L490.3,184.9L487.6,186.1L484.6,185.9L481.4,186.7L480.4,187.4L479.4,189.1L477.3,194.1L475.9,198.6L475.1,199.6L474.4,200.1L466.4,201.2L460.4,200.3L456.8,199.4L455.9,198.9L456.1,197.9L458.2,193.9L462.2,190.4L469.3,180.9L473.7,175.9L476.9,171.9L480.4,168.8L484.9,165.6L487.2,164.4L491.9,163.6L499.1,162.8ZM427.4,212.6L428.4,212.7L428.9,213.4L428.5,215.4L429.4,219.9L429.9,225.9L429.9,229.1L429.6,230.8L427.1,240.6L420.2,253.9L413.6,267.5L411.9,270.6L410.2,272.4L409.0,274.6L405.6,281.6L403.1,287.6L398.7,295.9L397.3,301.9L397.1,302.2L396.6,302.3L396.2,302.1L396.3,301.6L397.9,295.9L402.6,282.0L406.5,271.6L405.6,267.9L405.8,265.1L406.7,261.6L407.5,258.9L411.4,248.6L415.4,238.9L417.4,229.4L425.4,214.2L426.1,213.2L427.4,212.6Z"/><path fill="#f07828" d="M497.9,165.4L500.4,165.1L504.4,165.3L514.6,166.4L516.9,169.1L518.4,171.4L519.0,172.6L519.6,175.1L519.7,178.1L519.5,180.1L518.6,181.4L517.3,182.1L515.1,182.9L511.1,183.4L499.1,183.6L491.6,184.1L490.1,184.4L487.4,185.4L484.1,185.1L480.6,185.6L479.2,186.4L477.5,188.1L471.9,195.6L471.1,195.8L466.9,195.7L465.6,195.2L465.6,194.6L468.6,188.1L471.6,182.4L474.5,178.1L478.0,173.9L479.5,172.4L483.1,169.5L487.9,166.8L492.6,165.9L497.9,165.4ZM427.1,213.1L427.9,213.2L428.4,213.8L428.2,215.4L429.2,219.9L429.6,225.6L429.4,229.6L426.4,240.6L419.9,253.4L413.1,267.6L411.4,270.4L407.6,273.9L407.5,271.1L406.8,269.6L406.5,268.1L407.0,264.1L408.4,259.1L416.1,239.4L418.1,228.6L422.4,220.1L425.1,215.1L425.9,213.9L427.1,213.1Z"/><path fill="#f26820" d="M497.9,169.6L500.4,169.4L503.6,169.8L509.4,170.9L511.9,171.9L513.8,173.9L516.0,177.6L516.1,178.9L515.6,180.9L515.1,181.9L514.6,182.3L509.1,183.0L491.4,183.7L487.1,184.4L480.1,183.2L478.2,182.4L477.4,181.7L477.5,180.4L479.0,178.1L481.9,175.2L485.4,172.7L489.6,170.8L493.6,170.0L497.9,169.6ZM426.4,214.6L426.9,214.4L427.4,214.8L428.5,218.9L428.7,220.4L428.8,225.4L428.3,229.1L425.3,240.1L418.7,253.1L413.2,265.6L410.6,269.5L409.6,270.2L408.9,270.2L408.1,269.4L407.8,268.4L408.2,264.4L409.7,259.4L417.3,239.6L419.1,229.4L419.7,227.4L423.1,219.2L425.4,215.7L426.4,214.6Z"/><path fill="#f5581c" d="M497.4,174.3L500.6,174.3L502.4,174.7L506.9,176.2L513.1,180.2L513.8,180.9L514.0,181.6L513.4,182.0L506.4,182.8L488.6,183.5L485.1,183.0L482.6,181.8L482.0,181.1L482.4,180.2L484.4,178.5L486.9,176.8L489.6,175.8L494.9,174.6L497.4,174.3ZM426.4,215.6L426.9,215.7L427.1,216.1L428.2,220.1L428.0,225.1L424.3,239.6L417.6,252.8L412.8,264.6L410.1,268.4L409.4,268.7L408.9,267.9L409.2,265.1L410.5,260.4L418.4,240.1L420.9,225.6L423.4,219.3L424.5,217.6L426.4,215.6Z"/><path fill="#f84818" d="M497.6,175.1L499.9,175.1L501.9,175.4L506.4,176.9L512.1,180.4L512.8,180.9L513.0,181.4L511.1,181.8L506.4,182.3L502.1,182.4L495.4,182.8L488.4,182.9L485.6,182.5L483.4,181.4L483.0,180.9L484.6,179.3L487.1,177.6L490.4,176.4L494.9,175.4L497.6,175.1ZM426.1,216.3L426.6,216.3L426.8,216.6L427.8,220.1L427.6,224.9L423.8,239.6L417.1,252.8L412.3,264.6L410.4,267.2L409.6,267.7L409.7,265.1L411.0,260.4L418.8,240.4L420.1,233.9L421.3,225.6L423.7,219.4L426.1,216.3Z"/><path fill="#fa3c18" d="M497.6,175.8L499.9,175.8L501.6,176.1L506.1,177.6L510.0,179.9L511.0,180.9L510.6,181.1L506.1,181.7L501.9,181.7L495.1,182.2L488.1,182.2L485.9,181.8L484.6,181.1L484.4,180.6L485.1,179.8L487.6,178.2L490.6,177.1L495.1,176.1L497.6,175.8ZM426.1,217.0L426.6,217.3L427.5,220.4L427.3,224.9L423.5,239.4L416.8,252.6L412.0,264.4L411.1,265.8L410.2,266.4L410.1,265.1L411.4,260.4L419.2,240.4L420.4,234.1L421.6,225.8L423.9,219.6L425.0,218.1L426.1,217.0Z"/><path fill="#fc3014" d="M496.9,178.4L499.9,178.4L502.4,179.4L502.9,179.4L491.1,179.9L492.4,179.4L493.4,179.4L494.6,178.9L496.6,178.6L496.9,178.4ZM426.1,217.8L426.6,218.6L427.1,220.6L426.9,224.9L423.1,239.1L416.4,252.4L411.6,264.1L410.9,265.0L410.9,264.0L411.9,260.4L419.5,240.6L420.8,234.1L422.0,225.9L424.2,219.9L425.4,218.3L426.1,217.8Z"/><path fill="#ff2814" d="M425.6,218.9L426.1,218.9L426.6,220.6L426.4,224.6L423.1,237.4L422.1,240.2L416.4,251.0L416.2,250.9L416.4,250.1L420.2,239.9L421.8,231.4L422.5,226.1L424.6,220.1L425.6,218.9Z"/><path fill="#ff2010" d="M425.6,220.5L425.8,221.4L425.4,225.3L422.4,236.8L421.4,239.6L421.4,238.4L423.2,226.6L424.6,222.6L425.6,220.5Z"/><path fill="none" stroke="#3c3c3c" stroke-opacity="0.75" stroke-width="0.6" d="M483.9,119.6L558.6,119.5L560.4,119.8L560.7,121.1L560.8,173.4L559.9,178.9L537.1,179.3L535.7,180.4L534.7,187.9L532.6,194.9L525.4,197.0L523.6,199.7L523.1,200.0L500.4,202.5L494.7,207.1L481.4,213.9L473.6,217.5L461.4,218.6L449.9,218.1L445.9,218.4L445.4,219.4L444.6,225.1L446.0,231.9L447.1,239.9L446.4,250.1L441.0,257.4L437.2,264.6L435.5,271.9L434.8,279.6L433.9,281.6L429.9,287.9L418.4,296.1L415.0,302.9L411.0,303.6L410.5,306.6L410.4,309.6L410.1,310.2L408.9,310.4L359.9,310.4L350.1,310.2L349.8,309.6L349.5,304.1L349.1,303.5L340.9,302.9L340.4,302.6L340.3,302.1L340.9,121.0L342.1,120.8L459.1,120.6L459.6,120.7L459.9,121.2L461.7,132.9L462.0,133.9L463.1,134.3L469.6,134.3L471.8,134.1L472.5,133.1L474.4,120.6L474.9,120.3L481.4,120.1L483.9,119.6M484.4,120.6L519.9,120.4L559.6,120.6L559.6,173.9L555.9,174.3L534.4,174.6L533.4,175.1L532.8,175.9L530.4,184.4L528.0,189.9L522.4,194.3L512.9,196.4L499.6,198.1L494.6,200.2L485.4,207.0L474.9,212.8L456.9,214.3L449.1,212.8L443.4,215.9L439.9,219.6L439.5,222.9L439.8,226.6L443.1,240.1L441.4,249.9L437.3,257.1L429.4,265.1L426.9,268.8L424.4,272.6L417.9,284.8L412.1,296.5L410.1,303.1L409.6,309.7L350.6,309.7L350.1,299.9L359.1,285.8L359.2,270.6L360.0,268.9L429.9,184.1L454.6,149.1L455.4,148.7L461.6,147.3L465.1,144.8L467.6,143.8L468.4,143.7L470.1,144.5L470.6,144.5L474.6,142.3L482.2,139.1L483.7,134.9L484.0,123.9L484.4,120.6M519.9,139.8L520.4,139.7L520.9,140.1L523.3,144.4L533.0,162.9L536.3,169.9L535.9,170.5L531.0,172.6L528.0,183.6L525.8,188.1L519.6,191.5L506.8,193.6L493.9,196.5L489.6,198.9L480.1,205.7L476.9,207.7L475.4,208.3L469.6,209.6L460.1,210.7L447.4,207.7L444.6,209.6L442.6,210.5L441.4,210.9L440.6,210.6L438.5,206.6L437.0,202.9L436.2,199.4L436.5,198.1L439.2,192.1L443.0,188.4L445.4,185.1L449.7,176.6L453.7,170.4L460.3,160.9L464.1,157.1L467.9,154.2L472.7,152.1L480.4,147.7L485.4,145.5L494.4,143.9L498.9,144.4L503.1,143.8L507.6,145.3L511.1,144.6L516.9,144.6L517.4,144.3L519.0,140.9L519.9,139.8M430.6,185.4L431.9,185.2L437.9,185.7L438.5,186.4L436.3,197.4L433.9,204.1L434.4,211.9L435.7,215.4L436.1,225.4L438.1,240.4L435.8,245.4L431.9,250.5L428.6,256.1L419.6,273.8L416.5,280.6L407.4,295.9L406.0,303.1L404.9,303.7L397.1,304.1L359.9,303.8L359.3,302.9L359.3,300.9L359.5,289.6L360.0,285.4L360.0,270.9L360.3,269.9L380.5,245.9L427.6,188.6L430.6,185.4M491.9,152.1L496.1,152.1L500.4,152.8L504.4,152.0L507.6,152.8L511.4,152.1L515.4,152.0L519.3,154.1L522.4,155.3L523.4,156.2L524.5,157.9L526.3,161.9L527.6,169.6L527.8,173.4L527.7,175.4L524.5,185.6L521.1,187.5L513.6,188.9L511.4,190.0L494.4,191.2L492.4,191.9L487.4,194.9L484.4,195.4L479.9,202.6L474.9,205.5L466.1,206.8L460.1,207.0L455.4,206.5L448.1,203.5L444.6,201.4L444.2,200.4L445.0,197.6L448.5,192.1L454.1,184.9L459.7,174.6L464.1,169.9L467.5,166.9L471.2,161.9L473.7,159.1L475.4,157.7L485.4,153.7L491.9,152.1M431.6,205.1L432.4,205.8L433.2,208.9L433.0,212.4L432.1,215.4L433.6,227.6L434.0,240.4L431.5,246.1L426.9,250.4L422.9,257.0L415.9,271.7L412.0,280.9L402.9,295.9L401.1,302.6L400.4,303.0L396.9,303.3L372.1,303.2L360.6,302.8L360.3,302.1L360.4,289.5L360.6,271.1L360.9,270.1L363.1,268.4L368.9,265.2L402.7,246.9L408.2,237.9L412.4,234.7L422.8,215.9L426.3,210.1L429.9,206.4L431.6,205.1M498.6,160.1L516.9,160.2L518.6,161.4L521.5,165.6L523.0,168.4L523.8,170.1L524.1,171.9L524.4,175.4L523.8,180.1L522.8,182.6L522.1,183.5L519.1,185.3L510.9,186.4L499.6,186.4L491.9,187.0L488.1,188.7L484.9,188.5L483.1,188.9L482.4,189.4L481.1,192.0L478.3,199.9L476.6,202.0L475.9,202.5L466.4,203.9L460.1,203.1L452.5,200.9L452.3,199.9L452.5,198.6L456.0,191.9L460.0,188.4L467.1,179.1L475.1,169.6L480.1,165.4L486.1,161.6L491.9,160.7L498.6,160.1M430.1,210.3L430.6,210.2L430.7,210.6L429.3,215.4L430.4,222.1L430.7,229.1L430.4,232.6L429.0,240.1L426.7,244.9L423.4,249.7L421.1,253.9L414.4,267.6L411.1,273.4L404.3,287.6L400.4,294.9L399.6,296.5L398.1,302.4L397.4,302.9L396.4,302.9L391.6,302.5L372.8,302.1L372.9,301.5L374.6,298.2L387.6,275.4L388.4,275.1L396.4,276.7L397.4,276.7L397.6,276.4L399.1,261.4L400.7,255.6L400.7,255.1L399.9,254.4L400.1,253.9L404.5,247.1L409.4,238.9L413.6,235.6L425.4,213.4L426.9,212.0L430.1,210.3M497.4,174.3L500.6,174.3L506.9,176.2L513.1,180.2L514.0,181.6L513.4,182.0L506.4,182.8L488.6,183.5L485.1,183.0L482.6,181.8L482.0,181.1L482.4,180.2L484.4,178.5L486.9,176.8L489.6,175.8L494.9,174.6L497.4,174.3M426.4,215.6L427.1,216.1L428.2,220.1L428.0,225.1L424.3,239.6L417.6,252.8L412.8,264.6L410.1,268.4L409.4,268.7L408.9,267.9L409.2,265.1L410.5,260.4L418.4,240.1L420.9,225.6L423.4,219.3L426.4,215.6"/><path fill="none" stroke="#6a5a8a" stroke-opacity="0.8" stroke-width="0.6" d="M539.6,197.9L534.6,199.8L528.6,201.6L523.9,204.1L521.5,207.4L517.0,215.6L511.2,229.4L509.4,239.9L510.4,247.9L512.2,257.9L516.6,275.0L520.5,299.1L521.1,300.9L521.6,301.3L523.6,301.7L560.4,307.2L563.4,304.8L575.8,292.9L580.8,278.9L582.9,271.9L579.3,250.6L577.6,246.6L561.2,214.6L553.2,202.9L551.9,202.0L542.9,198.5L540.4,197.8L539.6,197.9M535.1,201.9L537.4,201.8L544.9,203.3L548.6,208.4L549.0,209.6L548.8,224.1L548.4,225.1L541.8,231.6L533.6,238.4L525.1,225.2L524.5,207.6L525.9,204.3L535.1,201.9M498.4,219.6L482.6,220.6L477.4,221.1L476.5,221.6L477.7,225.4L482.9,237.5L484.9,262.9L478.6,286.3L472.1,293.4L472.0,299.9L472.4,300.8L473.1,301.2L479.4,301.3L480.7,300.6L489.5,287.4L500.2,266.1L505.3,222.6L505.0,221.9L504.4,221.4L499.9,219.7L498.4,219.6M544.9,256.3L554.5,263.1L567.9,275.4L564.4,290.7L554.6,289.4L553.1,289.1L552.6,288.7L546.3,275.1L544.9,259.4L544.9,256.3"/><path fill="#fff" fill-rule="evenodd" d="M329,109H651V321H329Z M467.3,139.3L514.8,140.1L610.7,306.6L374.5,299.4Z"/><defs><clipPath id="ext"><path clip-rule="evenodd" d="M0,0H685V463H0Z M467.3,139.3L514.8,140.1L610.7,306.6L374.5,299.4Z"/></clipPath></defs>
<path clip-path="url(#ext)" d="M478.77,119.01L606.93,340.20M502.05,119.01L374.17,340.20M455.52,159.22L560.38,340.20M525.35,159.22L420.73,340.20M432.27,199.44L513.83,340.20M548.65,199.44L467.27,340.20M409.02,239.66L467.27,340.20M571.95,239.66L513.83,340.20M385.77,279.88L420.73,340.20M595.25,279.88L560.38,340.20M362.52,320.09L374.17,340.20M618.55,320.09L606.93,340.20M374.15,299.98L606.90,299.98M397.40,259.77L583.60,259.77M420.65,219.55L560.30,219.55M443.90,179.33L537.00,179.33" stroke="#d8d8d8" stroke-width="0.7" fill="none"/>
<path clip-path="url(#ext)" d="M478.77,119.01L502.05,119.01M362.52,320.09L618.55,320.09" stroke="#cfcfcf" stroke-width="0.7" fill="none" stroke-dasharray="2,1.5"/>
<path clip-path="url(#ext)" d="M467.15,139.12L583.65,340.20M513.70,139.12L397.45,340.20M443.90,179.33L537.10,340.20M537.00,179.33L444.00,340.20M420.65,219.55L490.55,340.20M560.30,219.55L490.55,340.20M397.40,259.77L444.00,340.20M583.60,259.77L537.10,340.20M374.15,299.98L397.45,340.20M606.90,299.98L583.65,340.20" stroke="#7a7a7a" stroke-width="0.8" fill="none"/>
<path clip-path="url(#ext)" d="M467.15,139.12L513.70,139.12" stroke="#c4c4c4" stroke-width="1" fill="none"/>
<path d="M490.40,98.90l-3.01,-5.19M350.90,340.20l-3.00,5.20M490.40,98.90h6M478.77,119.01l-1.75,-3.03M374.17,340.20l-1.75,3.03M502.05,119.01h3.5M467.15,139.12l-3.01,-5.19M397.45,340.20l-3.00,5.20M513.70,139.12h6M455.52,159.22l-1.75,-3.03M420.73,340.20l-1.75,3.03M525.35,159.22h3.5M443.90,179.33l-3.01,-5.19M444.00,340.20l-3.00,5.20M537.00,179.33h6M432.27,199.44l-1.75,-3.03M467.27,340.20l-1.75,3.03M548.65,199.44h3.5M420.65,219.55l-3.01,-5.19M490.55,340.20l-3.00,5.20M560.30,219.55h6M409.02,239.66l-1.75,-3.03M513.83,340.20l-1.75,3.03M571.95,239.66h3.5M397.40,259.77l-3.01,-5.19M537.10,340.20l-3.00,5.20M583.60,259.77h6M385.77,279.88l-1.75,-3.03M560.38,340.20l-1.75,3.03M595.25,279.88h3.5M374.15,299.98l-3.01,-5.19M583.65,340.20l-3.00,5.20M606.90,299.98h6M362.52,320.09l-1.75,-3.03M606.93,340.20l-1.75,3.03M618.55,320.09h3.5M350.90,340.20l-3.01,-5.19M630.20,340.20l-3.00,5.20M630.20,340.20h6" stroke="#1a1a1a" stroke-width="1.1" fill="none"/>
<polygon points="490.4,98.9 350.9,340.2 630.2,340.2" fill="none" stroke="#1a1a1a" stroke-width="1.3" stroke-linejoin="miter"/>
<text x="481.5" y="87.10000000000001" font-size="13.3" text-anchor="middle" font-family="Liberation Sans, sans-serif" fill="#1a1a1a">0</text>
<text x="454.8" y="127.8" font-size="13.3" text-anchor="middle" font-family="Liberation Sans, sans-serif" fill="#1a1a1a">10</text>
<text x="431.8" y="168.0" font-size="13.3" text-anchor="middle" font-family="Liberation Sans, sans-serif" fill="#1a1a1a">20</text>
<text x="408.2" y="208.2" font-size="13.3" text-anchor="middle" font-family="Liberation Sans, sans-serif" fill="#1a1a1a">30</text>
<text x="384.6" y="248.39999999999998" font-size="13.3" text-anchor="middle" font-family="Liberation Sans, sans-serif" fill="#1a1a1a">40</text>
<text x="361.6" y="288.7" font-size="13.3" text-anchor="middle" font-family="Liberation Sans, sans-serif" fill="#1a1a1a">50</text>
<text x="338.5" y="328.9" font-size="13.3" text-anchor="middle" font-family="Liberation Sans, sans-serif" fill="#1a1a1a">60</text>
<text x="501.59999999999997" y="103.2" font-size="13.3" font-family="Liberation Sans, sans-serif" fill="#1a1a1a">100</text>
<text x="524.1999999999999" y="143.39999999999998" font-size="13.3" font-family="Liberation Sans, sans-serif" fill="#1a1a1a">90</text>
<text x="547.6" y="184.1" font-size="13.3" font-family="Liberation Sans, sans-serif" fill="#1a1a1a">80</text>
<text x="570.4" y="223.79999999999998" font-size="13.3" font-family="Liberation Sans, sans-serif" fill="#1a1a1a">70</text>
<text x="593.6999999999999" y="264.5" font-size="13.3" font-family="Liberation Sans, sans-serif" fill="#1a1a1a">60</text>
<text x="617.6" y="304.2" font-size="13.3" font-family="Liberation Sans, sans-serif" fill="#1a1a1a">50</text>
<text x="640.4" y="345.59999999999997" font-size="13.3" font-family="Liberation Sans, sans-serif" fill="#1a1a1a">40</text>
<text x="345.8" y="360.09999999999997" font-size="13.3" text-anchor="middle" font-family="Liberation Sans, sans-serif" fill="#1a1a1a">0</text>
<text x="393.4" y="360.09999999999997" font-size="13.3" text-anchor="middle" font-family="Liberation Sans, sans-serif" fill="#1a1a1a">10</text>
<text x="438.6" y="360.09999999999997" font-size="13.3" text-anchor="middle" font-family="Liberation Sans, sans-serif" fill="#1a1a1a">20</text>
<text x="486.1" y="360.09999999999997" font-size="13.3" text-anchor="middle" font-family="Liberation Sans, sans-serif" fill="#1a1a1a">30</text>
<text x="532.7" y="360.09999999999997" font-size="13.3" text-anchor="middle" font-family="Liberation Sans, sans-serif" fill="#1a1a1a">40</text>
<text x="578.9" y="360.09999999999997" font-size="13.3" text-anchor="middle" font-family="Liberation Sans, sans-serif" fill="#1a1a1a">50</text>
<text x="625" y="360.09999999999997" font-size="13.3" text-anchor="middle" font-family="Liberation Sans, sans-serif" fill="#1a1a1a">60</text>
<text x="490.6" y="384.0" font-size="14.4" text-anchor="middle" font-family="Liberation Sans, sans-serif" fill="#1a1a1a">Ir (at.%)</text>
<text transform="translate(382.9,201.5) rotate(-60)" font-size="14.4" text-anchor="middle" font-family="Liberation Sans, sans-serif" fill="#1a1a1a">Pt (at.%)</text>
<text transform="translate(595.2,201.8) rotate(60)" font-size="14.4" text-anchor="middle" font-family="Liberation Sans, sans-serif" fill="#1a1a1a">Fe (at.%)</text>
<text x="355.0" y="113.6" font-size="19.5" font-weight="bold" font-family="Liberation Sans, sans-serif" fill="#000">b</text>
<rect x="639.0" y="79.73" width="14.9" height="241.47" fill="#ff2010"/><rect x="639.0" y="84.30" width="14.9" height="236.90" fill="#ff2010"/><rect x="639.0" y="89.57" width="14.9" height="231.63" fill="#ff2814"/><rect x="639.0" y="94.83" width="14.9" height="226.37" fill="#fc3014"/><rect x="639.0" y="100.10" width="14.9" height="221.10" fill="#fa3c18"/><rect x="639.0" y="105.37" width="14.9" height="215.83" fill="#f84818"/><rect x="639.0" y="110.63" width="14.9" height="210.57" fill="#f5581c"/><rect x="639.0" y="115.90" width="14.9" height="205.30" fill="#f26820"/><rect x="639.0" y="121.17" width="14.9" height="200.03" fill="#f07828"/><rect x="639.0" y="126.43" width="14.9" height="194.77" fill="#f08c2c"/><rect x="639.0" y="131.70" width="14.9" height="189.50" fill="#f0a030"/><rect x="639.0" y="136.97" width="14.9" height="184.23" fill="#f0b838"/><rect x="639.0" y="142.23" width="14.9" height="178.97" fill="#f0d040"/><rect x="639.0" y="147.50" width="14.9" height="173.70" fill="#e8f040"/><rect x="639.0" y="152.77" width="14.9" height="168.43" fill="#d0f838"/><rect x="639.0" y="158.03" width="14.9" height="163.17" fill="#b1f830"/><rect x="639.0" y="163.30" width="14.9" height="157.90" fill="#8ff820"/><rect x="639.0" y="168.57" width="14.9" height="152.63" fill="#70f818"/><rect x="639.0" y="173.83" width="14.9" height="147.37" fill="#51f810"/><rect x="639.0" y="179.10" width="14.9" height="142.10" fill="#40f811"/><rect x="639.0" y="184.37" width="14.9" height="136.83" fill="#40f830"/><rect x="639.0" y="189.63" width="14.9" height="131.57" fill="#48f85f"/><rect x="639.0" y="194.90" width="14.9" height="126.30" fill="#54f878"/><rect x="639.0" y="200.17" width="14.9" height="121.03" fill="#60f890"/><rect x="639.0" y="205.43" width="14.9" height="115.77" fill="#70f8bf"/><rect x="639.0" y="210.70" width="14.9" height="110.50" fill="#78fff8"/><rect x="639.0" y="215.97" width="14.9" height="105.23" fill="#78fcf8"/><rect x="639.0" y="221.23" width="14.9" height="99.97" fill="#6ce4f8"/><rect x="639.0" y="226.50" width="14.9" height="94.70" fill="#60c8f8"/><rect x="639.0" y="231.77" width="14.9" height="89.43" fill="#58b0f8"/><rect x="639.0" y="237.03" width="14.9" height="84.17" fill="#5098f8"/><rect x="639.0" y="242.30" width="14.9" height="78.90" fill="#4880f8"/><rect x="639.0" y="247.57" width="14.9" height="73.63" fill="#4068f8"/><rect x="639.0" y="252.83" width="14.9" height="68.37" fill="#3a54f8"/><rect x="639.0" y="258.10" width="14.9" height="63.10" fill="#3440f8"/><rect x="639.0" y="263.37" width="14.9" height="57.83" fill="#2a28f8"/><rect x="639.0" y="268.63" width="14.9" height="52.57" fill="#1c12ff"/><rect x="639.0" y="273.90" width="14.9" height="47.30" fill="#2408ff"/><rect x="639.0" y="279.17" width="14.9" height="42.03" fill="#3408ff"/><rect x="639.0" y="284.43" width="14.9" height="36.77" fill="#4408ff"/><rect x="639.0" y="289.70" width="14.9" height="31.50" fill="#5408ff"/><rect x="639.0" y="294.97" width="14.9" height="26.23" fill="#6608ff"/><rect x="639.0" y="300.23" width="14.9" height="20.97" fill="#7808ff"/><rect x="639.0" y="305.50" width="14.9" height="15.70" fill="#880aff"/><rect x="639.0" y="310.77" width="14.9" height="10.43" fill="#960eff"/><rect x="639.0" y="316.03" width="14.9" height="5.17" fill="#a412ff"/>
<rect x="639.0" y="79.2" width="14.899999999999977" height="242.0" fill="none" stroke="#222" stroke-width="0.9"/>
<path d="M653.9,313.40h2.8M653.9,305.50h5M653.9,297.60h2.8M653.9,289.70h2.8M653.9,281.80h2.8M653.9,273.90h5M653.9,266.00h2.8M653.9,258.10h2.8M653.9,250.20h2.8M653.9,242.30h5M653.9,234.40h2.8M653.9,226.50h2.8M653.9,218.60h2.8M653.9,210.70h5M653.9,202.80h2.8M653.9,194.90h2.8M653.9,187.00h2.8M653.9,179.10h5M653.9,171.20h2.8M653.9,163.30h2.8M653.9,155.40h2.8M653.9,147.50h5M653.9,139.60h2.8M653.9,131.70h2.8M653.9,123.80h2.8M653.9,115.90h5M653.9,108.00h2.8M653.9,100.10h2.8M653.9,92.20h2.8M653.9,84.30h5" stroke="#1a1a1a" stroke-width="1" fill="none"/>
<text x="660.9" y="310.10" font-size="12.8" font-family="Liberation Sans, sans-serif" fill="#1a1a1a">0.0</text>
<text x="660.9" y="278.50" font-size="12.8" font-family="Liberation Sans, sans-serif" fill="#1a1a1a">1.0</text>
<text x="660.9" y="246.90" font-size="12.8" font-family="Liberation Sans, sans-serif" fill="#1a1a1a">2.0</text>
<text x="660.9" y="215.30" font-size="12.8" font-family="Liberation Sans, sans-serif" fill="#1a1a1a">3.0</text>
<text x="660.9" y="183.70" font-size="12.8" font-family="Liberation Sans, sans-serif" fill="#1a1a1a">4.0</text>
<text x="660.9" y="152.10" font-size="12.8" font-family="Liberation Sans, sans-serif" fill="#1a1a1a">5.0</text>
<text x="660.9" y="120.50" font-size="12.8" font-family="Liberation Sans, sans-serif" fill="#1a1a1a">6.0</text>
<text x="660.9" y="88.90" font-size="12.8" font-family="Liberation Sans, sans-serif" fill="#1a1a1a">7.0</text>
<g font-family="Liberation Sans, sans-serif" fill="#1a1a1a"><text x="608.6" y="70.4" font-size="13.6" font-style="italic">ρ</text><text x="616.6" y="74.1" font-size="10" font-style="italic">yx</text><text x="617.6" y="64.9" font-size="10.3" font-style="italic">A</text><text x="632.4" y="70.2" font-size="14.2">(μΩ cm)</text></g>
</svg></body></html>
